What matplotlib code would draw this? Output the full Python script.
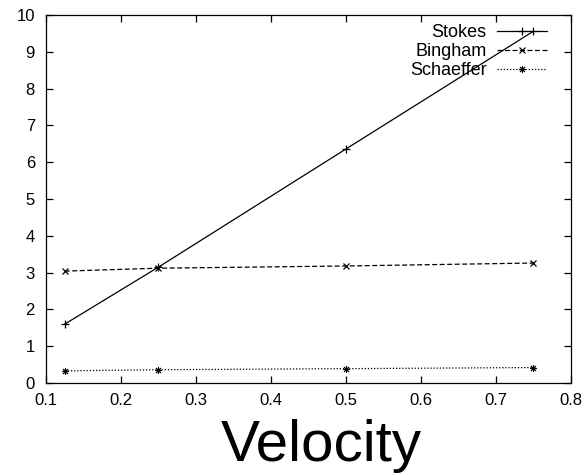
import matplotlib
matplotlib.use("Agg")
import matplotlib.pyplot as plt

plt.rcParams['font.family'] = ['Liberation Sans', 'DejaVu Sans']

velocity = [0.125, 0.25, 0.5, 0.75]
stokes = [1.6, 3.15, 6.36, 9.56]
bingham = [3.04, 3.12, 3.18, 3.26]
schaeffer = [0.33, 0.36, 0.39, 0.42]

fig = plt.figure(figsize=(5.84, 4.75), dpi=100)
ax = fig.add_axes([46 / 584, 1 - 383 / 475, (571 - 46) / 584, (383 - 15) / 475])

ax.plot(velocity, stokes, color='black', lw=0.9, marker='+', ms=6, mew=0.9, label='Stokes')
ax.plot(velocity, bingham, color='black', lw=0.9, ls=(0, (4, 2)), marker='x', ms=5, mew=0.9, label='Bingham')
ax.plot(velocity, schaeffer, color='black', lw=0.9, ls=(0, (1, 1.5)), marker=(8, 2, 0), ms=5, mew=0.7, label='Schaeffer')

ax.set_xlim(0.1, 0.8)
ax.set_ylim(0, 10)
ax.set_xticks([0.1, 0.2, 0.3, 0.4, 0.5, 0.6, 0.7, 0.8])
ax.set_yticks(range(0, 11))
ax.tick_params(direction='in', top=True, right=True, labelsize=12, length=5, width=0.9)
ax.tick_params(axis='x', pad=7)
ax.tick_params(axis='y', pad=8)
for s in ax.spines.values():
    s.set_linewidth(0.9)

ax.set_xlabel('Velocity', fontsize=42)
ax.xaxis.label.set_va('baseline')
ax.xaxis.set_label_coords(0.525, -0.211)

ax.legend(loc='upper right', bbox_to_anchor=(0.968, 0.995), frameon=False, markerfirst=False,
          alignment='right', fontsize=13, handlelength=2.75, handletextpad=0.6, borderpad=0.2,
          labelspacing=0.12, borderaxespad=0.2)

fig.savefig('out.png', dpi=100)
